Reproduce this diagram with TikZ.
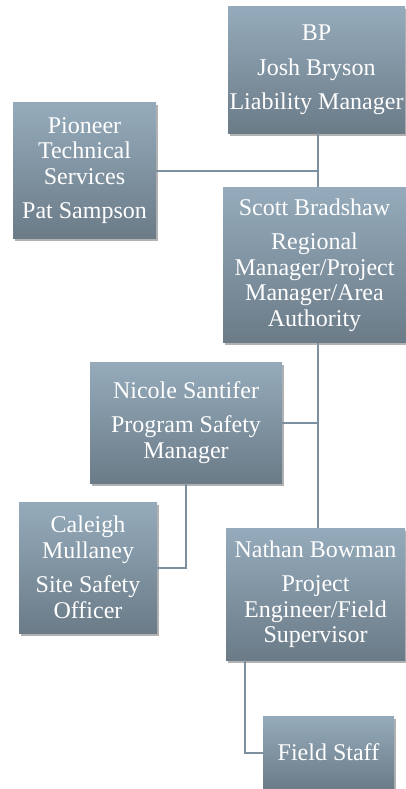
\documentclass[tikz,border=0pt]{standalone}
\usepackage{fontspec}
\setmainfont{Liberation Serif}
\newfontfamily\boxfont{Liberation Serif}
\usepackage{tikz}
\usetikzlibrary{shadows}
\definecolor{boxtop}{HTML}{95ABBB}
\definecolor{boxbot}{HTML}{6B7B88}
\definecolor{linkgray}{HTML}{7D909F}

\begin{document}
\begin{tikzpicture}[x=1pt,y=-1pt,
	box/.style={rectangle,inner sep=0pt,align=center,text=white,
		top color=boxtop,bottom color=boxbot,
		drop shadow={shadow xshift=1.5pt,shadow yshift=-2.5pt,opacity=0.3,fill=black},
		font=\boxfont\fontsize{24}{25.5}\selectfont},
	link/.style={draw=linkgray,line width=2pt}]

	\useasboundingbox (0,0) rectangle (406,789);

	% Draw boxes
	\node[box,minimum width=177pt,minimum height=126pt] (bp) at (316.5,70) {BP\\[9pt]Josh Bryson\\[9pt]Liability Manager};
	\node[box,minimum width=143pt,minimum height=135pt] (pts) at (84.5,170.5) {Pioneer\\Technical\\Services\\[9pt]Pat Sampson};
	\node[box,minimum width=183pt,minimum height=155pt] (scott) at (314.5,265) {Scott Bradshaw\\[9pt]Regional\\Manager/Project\\Manager/Area\\Authority};
	\node[box,minimum width=192pt,minimum height=121pt] (nicole) at (186,422.5) {Nicole Santifer\\[9pt]Program Safety\\Manager};
	\node[box,minimum width=138pt,minimum height=131pt] (caleigh) at (88,567.5) {Caleigh\\Mullaney\\[9pt]Site Safety\\Officer};
	\node[box,minimum width=179pt,minimum height=132pt] (nathan) at (315.5,594) {Nathan Bowman\\[9pt]Project\\Engineer/Field\\Supervisor};
	\node[box,minimum width=131pt,minimum height=73pt] (field) at (328.5,752.5) {Field Staff};

	% Draw junctions
	\coordinate (j1) at (318,170.5);
	\coordinate (j2) at (318,422.5);

	% Draw connectors
	\draw[link] (bp.south -| j1) -- (scott.north -| j1);
	\draw[link] (pts.east) -- (j1);
	\draw[link] (scott.south -| j2) -- (nathan.north -| j2);
	\draw[link] (nicole.east) -- (j2);
	\draw[link] (nicole.south) |- (caleigh.east);
	\draw[link] ([xshift=19pt]nathan.south west) |- (field.west);

\end{tikzpicture}
\end{document}
